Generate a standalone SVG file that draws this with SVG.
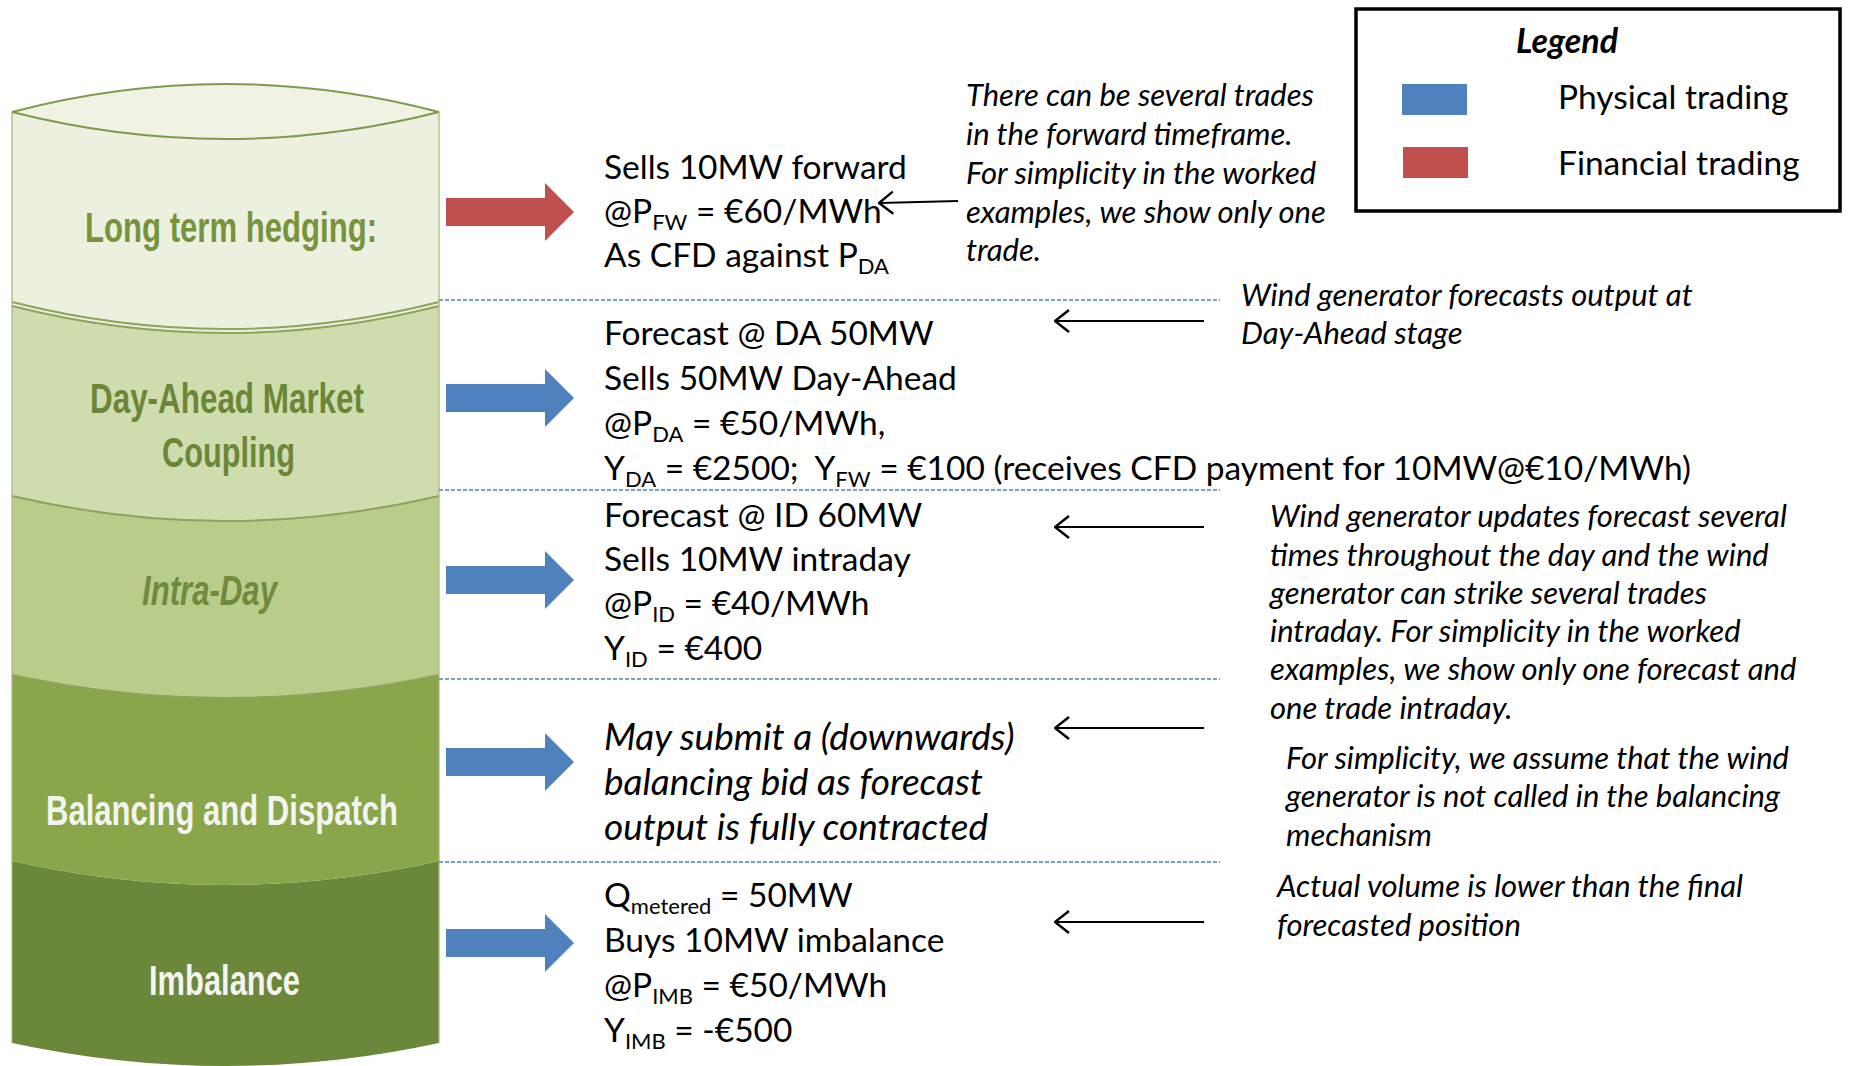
<svg xmlns="http://www.w3.org/2000/svg" width="1851" height="1066" viewBox="0 0 1851 1066">
<style>
.t{font-family:Lato,"Open Sans","Liberation Sans",sans-serif;font-size:33.5px;fill:#000}
.i{font-family:Lato,"Open Sans","Liberation Sans",sans-serif;font-size:37px;font-style:italic;fill:#000}
.n{font-family:Lato,"Open Sans","Liberation Sans",sans-serif;font-size:31px;font-style:italic;fill:#000}
.s{font-size:22px}
.cy{font-family:"Liberation Sans",Arial,sans-serif;font-weight:bold;font-size:43px}
.dash{stroke:#4f81bd;stroke-width:1.6;stroke-dasharray:4 2;fill:none}
.edge{fill:none;stroke:#8ea35c;stroke-width:2}
.blue{fill:#4f81bd}
.red{fill:#c0504d}
.pt{stroke:#000;stroke-width:2.2;fill:none}
</style>
<defs>
<marker id="oh" viewBox="0 0 16 24" refX="14" refY="12" markerWidth="16" markerHeight="24" markerUnits="userSpaceOnUse" orient="auto">
<polyline points="1,1 15,12 1,23" fill="none" stroke="#000" stroke-width="2.4"/>
</marker>
</defs>
<rect width="1851" height="1066" fill="#fff"/>

<g id="cylinder">
<g id="layer-imbalance">
<path d="M12,861 Q225.5,909 439,861 L439,1043 Q225.5,1089 12,1043 Z" fill="#6b8739"/>
<text class="cy" x="149" y="995" textLength="151" lengthAdjust="spacingAndGlyphs" fill="#f4f4f0">Imbalance</text>
</g>
<g id="layer-balancing">
<path d="M12,675 Q225.5,721 439,675 L439,861 Q225.5,909 12,861 Z" fill="#89a74a"/>
<text class="cy" x="46" y="825" textLength="352" lengthAdjust="spacingAndGlyphs" fill="#f4f4f0">Balancing and Dispatch</text>
</g>
<g id="layer-intraday">
<path d="M12,496 Q225.5,546 439,496 L439,675 Q225.5,721 12,675 Z" fill="#b9cc89"/>
<text class="cy" x="142" y="605" textLength="135" lengthAdjust="spacingAndGlyphs" font-style="italic" fill="#6f8a3c">Intra-Day</text>
</g>
<g id="layer-dayahead">
<path d="M12,306 Q225.5,360 439,306 L439,496 Q225.5,546 12,496 Z" fill="#cfddae"/>
<text class="cy" x="90" y="413" textLength="274" lengthAdjust="spacingAndGlyphs" fill="#6b8636">Day-Ahead Market</text>
<text class="cy" x="162" y="467" textLength="133" lengthAdjust="spacingAndGlyphs" fill="#6b8636">Coupling</text>
</g>
<g id="layer-longterm">
<path d="M12,112 Q225.5,56 439,112 L439,306 Q225.5,360 12,306 Z" fill="#ebf1de"/>
<path d="M12,112 Q225.5,56 439,112 Q225.5,166 12,112 Z" fill="#eef3e4" stroke="#7f9a4a" stroke-width="2"/>
<text class="cy" x="85" y="242" textLength="292" lengthAdjust="spacingAndGlyphs" fill="#77933c">Long term hedging:</text>
</g>
<path class="edge" d="M12,306 Q225.5,360 439,306"/>
<path class="edge" d="M12,302 Q225.5,356 439,302" stroke-width="1.2"/>
<path class="edge" d="M12,496 Q225.5,546 439,496"/>
<path class="edge" d="M12,675 Q225.5,721 439,675" stroke="#7f9a4a"/>
<path d="M12,112 L12,1043 M439,112 L439,1043" stroke="#a4b87a" stroke-width="1.2" fill="none"/>
</g>

<g id="connectors">
<polygon class="red" points="446,198 545,198 545,183 574,212 545,241 545,226 446,226"/>
<polygon class="blue" points="446,384 545,384 545,369 574,398 545,427 545,412 446,412"/>
<polygon class="blue" points="446,566 545,566 545,551 574,580 545,609 545,594 446,594"/>
<polygon class="blue" points="446,748 545,748 545,733 574,762 545,791 545,776 446,776"/>
<polygon class="blue" points="446,929 545,929 545,914 574,943 545,972 545,957 446,957"/>
<path class="dash" d="M439,300 H1220 M439,490 H1220 M439,679 H1220 M439,862 H1220"/>
<line class="pt" x1="958" y1="201" x2="880" y2="203" marker-end="url(#oh)"/>
<line class="pt" x1="1204" y1="321" x2="1056" y2="321" marker-end="url(#oh)"/>
<line class="pt" x1="1204" y1="527" x2="1056" y2="527" marker-end="url(#oh)"/>
<line class="pt" x1="1204" y1="728" x2="1056" y2="728" marker-end="url(#oh)"/>
<line class="pt" x1="1204" y1="922" x2="1056" y2="922" marker-end="url(#oh)"/>
</g>

<g id="forward-trade">
<text class="t" x="604" y="179">Sells 10MW forward</text>
<text class="t" x="604" y="223">@P<tspan class="s" dy="7">FW</tspan><tspan dy="-7"> = €60/MWh</tspan></text>
<text class="t" x="604" y="267">As CFD against P<tspan class="s" dy="7">DA</tspan></text>
</g>
<g id="forward-note">
<text class="n" x="966" y="106">There can be several trades</text>
<text class="n" x="966" y="145">in the forward timeframe.</text>
<text class="n" x="966" y="184">For simplicity in the worked</text>
<text class="n" x="966" y="223">examples, we show only one</text>
<text class="n" x="966" y="261">trade.</text>
</g>

<g id="dayahead-trade">
<text class="t" x="604" y="345">Forecast @ DA 50MW</text>
<text class="t" x="604" y="390">Sells 50MW Day-Ahead</text>
<text class="t" x="604" y="435">@P<tspan class="s" dy="7">DA</tspan><tspan dy="-7"> = €50/MWh,</tspan></text>
<text class="t" x="604" y="480" xml:space="preserve">Y<tspan class="s" dy="7">DA</tspan><tspan dy="-7"> = €2500;  Y</tspan><tspan class="s" dy="7">FW</tspan><tspan dy="-7"> = €100 (receives CFD payment for 10MW@€10/MWh)</tspan></text>
</g>
<g id="dayahead-note">
<text class="n" x="1241" y="306">Wind generator forecasts output at</text>
<text class="n" x="1241" y="344">Day-Ahead stage</text>
</g>

<g id="intraday-trade">
<text class="t" x="604" y="527">Forecast @ ID 60MW</text>
<text class="t" x="604" y="571">Sells 10MW intraday</text>
<text class="t" x="604" y="615">@P<tspan class="s" dy="7">ID</tspan><tspan dy="-7"> = €40/MWh</tspan></text>
<text class="t" x="604" y="660">Y<tspan class="s" dy="7">ID</tspan><tspan dy="-7"> = €400</tspan></text>
</g>
<g id="intraday-note">
<text class="n" x="1270" y="527">Wind generator updates forecast several</text>
<text class="n" x="1270" y="566">times throughout the day and the wind</text>
<text class="n" x="1270" y="604">generator can strike several trades</text>
<text class="n" x="1270" y="642">intraday. For simplicity in the worked</text>
<text class="n" x="1270" y="680">examples, we show only one forecast and</text>
<text class="n" x="1270" y="719">one trade intraday.</text>
</g>

<g id="balancing-trade">
<text class="i" x="604" y="750">May submit a (downwards)</text>
<text class="i" x="604" y="795">balancing bid as forecast</text>
<text class="i" x="604" y="840">output is fully contracted</text>
</g>
<g id="balancing-note">
<text class="n" x="1286" y="769">For simplicity, we assume that the wind</text>
<text class="n" x="1286" y="807">generator is not called in the balancing</text>
<text class="n" x="1286" y="846">mechanism</text>
</g>

<g id="imbalance-trade">
<text class="t" x="604" y="907">Q<tspan class="s" dy="7">metered</tspan><tspan dy="-7"> = 50MW</tspan></text>
<text class="t" x="604" y="952">Buys 10MW imbalance</text>
<text class="t" x="604" y="997">@P<tspan class="s" dy="7">IMB</tspan><tspan dy="-7"> = €50/MWh</tspan></text>
<text class="t" x="604" y="1042">Y<tspan class="s" dy="7">IMB</tspan><tspan dy="-7"> = -€500</tspan></text>
</g>
<g id="imbalance-note">
<text class="n" x="1277" y="897">Actual volume is lower than the final</text>
<text class="n" x="1277" y="936">forecasted position</text>
</g>

<g id="legend">
<rect x="1356" y="9" width="484" height="202" fill="#fff" stroke="#000" stroke-width="3.5"/>
<text x="1567" y="53" text-anchor="middle" font-family="Lato,'Open Sans',sans-serif" font-size="34" font-weight="bold" font-style="italic">Legend</text>
<rect class="blue" x="1402" y="84" width="65" height="31"/>
<text class="t" x="1558" y="109" font-size="34">Physical trading</text>
<rect class="red" x="1403" y="147" width="65" height="31"/>
<text class="t" x="1558" y="175" font-size="34">Financial trading</text>
</g>
</svg>
